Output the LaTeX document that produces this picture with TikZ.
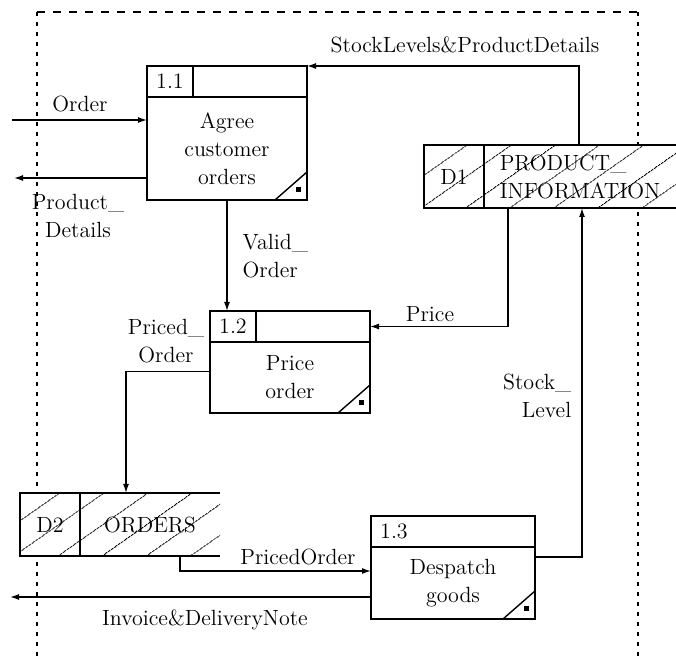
\documentclass[tikz,border=0pt]{standalone}
\usepackage{tikz}
\usetikzlibrary{arrows.meta,positioning,calc,patterns.meta}

\begin{document}
\begin{tikzpicture}[
    x=0.5pt, y=-0.5pt,
    font=\fontsize{11}{14}\selectfont,
    line width=0.7pt,
    >={Latex[length=4.5pt,width=3pt]},
    proc/.style={rectangle, draw, minimum width=80pt, align=center, inner sep=0pt, outer sep=0pt},
    prochead/.style={rectangle, draw, minimum width=80pt, minimum height=15.5pt, inner sep=0pt, outer sep=0pt},
    procid/.style={rectangle, minimum width=23pt, minimum height=15.5pt, inner sep=0pt, outer sep=0pt},
    store/.style={rectangle, minimum height=31.5pt, inner sep=0pt, outer sep=0pt, preaction={fill=white}, pattern={Lines[angle=35,distance=13pt,line width=0.5pt]}},
    storeid/.style={rectangle, minimum width=30pt, minimum height=31.5pt, inner sep=0pt, outer sep=0pt},
    lbl/.style={inner sep=2pt},
    boundary/.style={line width=0.8pt, dash pattern=on 2pt off 3pt},
    boundarytop/.style={line width=0.8pt, dash pattern=on 4pt off 4pt}
]
    \useasboundingbox (0,0) rectangle (676,656);

    % System boundary
    \draw[boundary] (37,656) -- (37,12);
    \draw[boundarytop] (37,12) -- (638,12);
    \draw[boundary] (638,12) -- (638,656);

    % Processes
    \node[proc, minimum height=51.5pt] (p11) at (227,148.5) {Agree\\customer\\orders};
    \node[prochead, above=0pt of p11] (p11h) {};
    \node[procid, anchor=north west] (p11id) at (p11h.north west) {1.1};

    \node[proc, minimum height=35.5pt] (p12) at (290,377.5) {Price\\order};
    \node[prochead, above=0pt of p12] (p12h) {};
    \node[procid, anchor=north west] (p12id) at (p12h.north west) {1.2};

    \node[proc, minimum width=82pt, minimum height=36pt] (p13) at (453,583) {Despatch\\goods};
    \node[prochead, minimum width=82pt, above=0pt of p13] (p13h) {};
    \node[procid, anchor=north west] (p13id) at (p13h.north west) {1.3};

    \foreach \p in {p11id,p12id} {
        \draw (\p.north east) -- (\p.south east);
    }
    \foreach \p in {p11,p12,p13} {
        \draw ($(\p.south east)+(-32,0)$) -- ($(\p.south east)+(0,-28)$);
        \fill ($(\p.south east)+(-11,-8)$) rectangle ++(5,-5);
    }

    % Data stores
    \node[store, minimum width=126pt] (d1) at (550,176.5) {};
    \draw (d1.north east) -- (d1.north west) -- (d1.south west) -- (d1.south east);
    \node[storeid, anchor=west] (d1id) at (d1.west) {D1};
    \draw (d1id.north east) -- (d1id.south east);
    \node[align=left] (d1name) at ($(d1id.east)!0.5!(d1.east)$) {PRODUCT\_\\INFORMATION};

    \node[store, minimum width=100pt] (d2) at (120,524.5) {};
    \draw (d2.north east) -- (d2.north west) -- (d2.south west) -- (d2.south east);
    \node[storeid, anchor=west] (d2id) at (d2.west) {D2};
    \draw (d2id.north east) -- (d2id.south east);
    \node (d2name) at ($(d2id.east)!0.5!(d2.east)$) {ORDERS};

    % Connections
    \coordinate (ordin) at (12,120);
    \coordinate (pdout) at (14,178);
    \coordinate (invout) at (10,597);
    \draw[->] (ordin) -- (ordin -| p11.west);
    \draw[->] (pdout -| p11.west) -- (pdout);
    \draw[->] ($(d1.north west)+(155,0)$) |- (p11h.north east);
    \draw[->] (p11.south) -- (p11.south |- p12h.north);
    \draw[->] ($(d1.south west)+(84,0)$) |- (p12h.east);
    \draw[->] ($(p12.west)+(0,-6)$) -| ($(d2.north west)+(106,0)$);
    \draw[->] ($(d2.south west)+(160,0)$) |- ($(p13.west)+(0,-12)$);
    \draw[->] ($(p13.east)+(0,-26)$) -| ($(d1.south west)+(158,0)$);
    \draw[->] (invout -| p13.west) -- (invout);

    % Labels
    \node[lbl] (lorder) at (80,104) {Order};
    \node[lbl, align=center] (lprod) at (78,216) {Product\_\\Details};
    \node[lbl] (lslpd) at (465,45) {StockLevels\&ProductDetails};
    \node[lbl, align=left, anchor=west] (lvalid) at (238,256) {Valid\_\\Order};
    \node[lbl, align=center] (lpriced) at (166,341) {Priced\_\\Order};
    \node[lbl] (lprice) at (430,314) {Price};
    \node[lbl, align=right, anchor=east] (lstock) at (576,396) {Stock\_\\Level};
    \node[lbl] (lpo) at (298,557) {PricedOrder};
    \node[lbl] (linv) at (205,620) {Invoice\&DeliveryNote};
\end{tikzpicture}
\end{document}
